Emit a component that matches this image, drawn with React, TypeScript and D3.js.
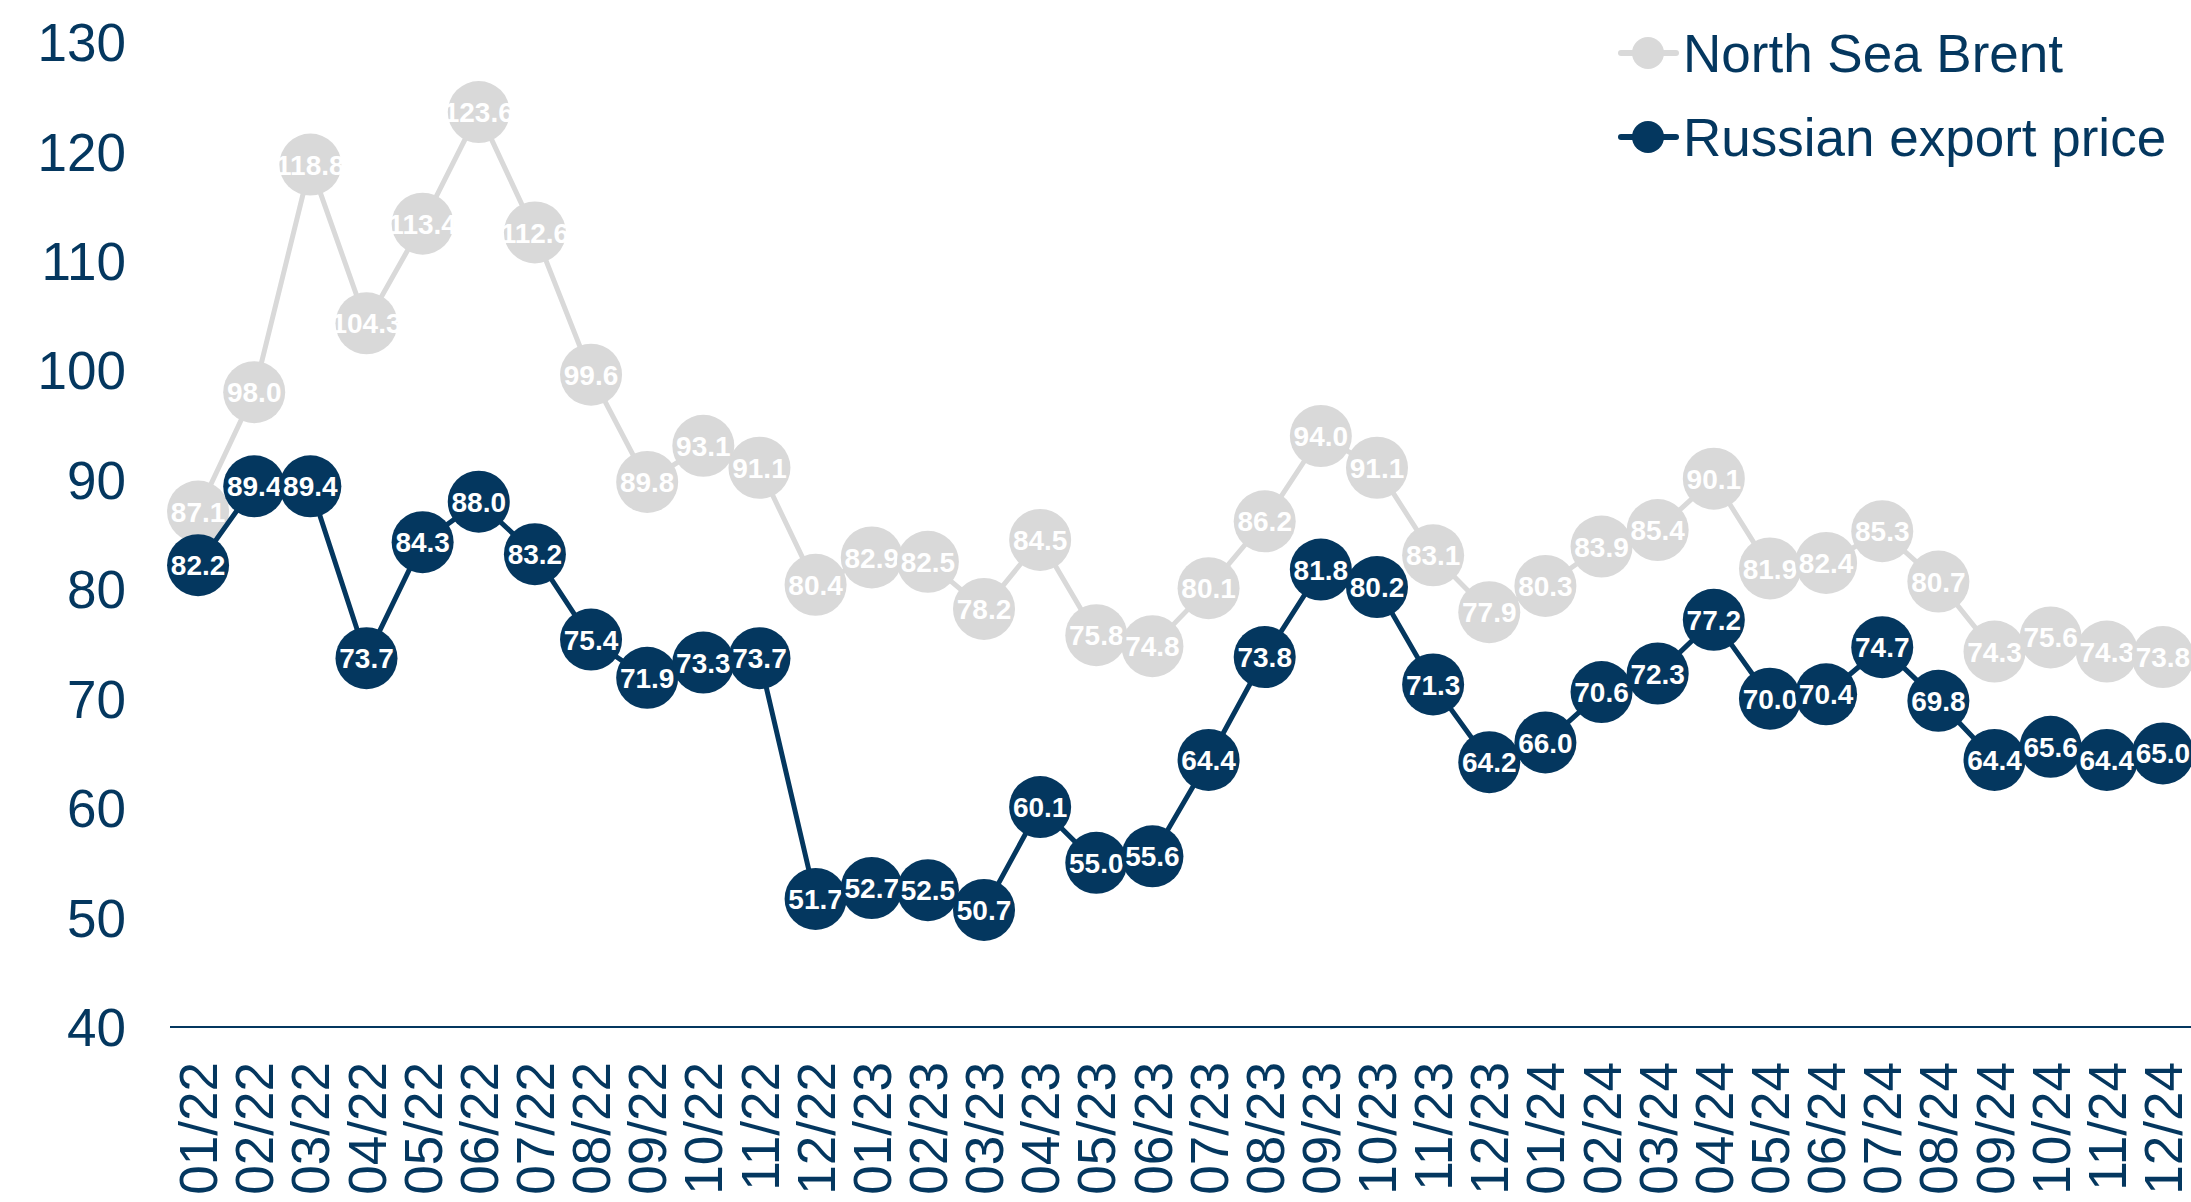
import React, { useEffect } from "react";
import * as d3 from "d3";

const months = [
  "01/22","02/22","03/22","04/22","05/22","06/22","07/22","08/22","09/22","10/22","11/22","12/22",
  "01/23","02/23","03/23","04/23","05/23","06/23","07/23","08/23","09/23","10/23","11/23","12/23",
  "01/24","02/24","03/24","04/24","05/24","06/24","07/24","08/24","09/24","10/24","11/24","12/24",
];
const brent = [
  87.1, 98.0, 118.8, 104.3, 113.4, 123.6, 112.6, 99.6, 89.8, 93.1, 91.1, 80.4,
  82.9, 82.5, 78.2, 84.5, 75.8, 74.8, 80.1, 86.2, 94.0, 91.1, 83.1, 77.9,
  80.3, 83.9, 85.4, 90.1, 81.9, 82.4, 85.3, 80.7, 74.3, 75.6, 74.3, 73.8,
];
const russian = [
  82.2, 89.4, 89.4, 73.7, 84.3, 88.0, 83.2, 75.4, 71.9, 73.3, 73.7, 51.7,
  52.7, 52.5, 50.7, 60.1, 55.0, 55.6, 64.4, 73.8, 81.8, 80.2, 71.3, 64.2,
  66.0, 70.6, 72.3, 77.2, 70.0, 70.4, 74.7, 69.8, 64.4, 65.6, 64.4, 65.0,
];
const yTicks = [40, 50, 60, 70, 80, 90, 100, 110, 120, 130];
const seriesNames = ["North Sea Brent", "Russian export price"];

const W = 2191;
const H = 1202;
const NAVY = "#04375f";
const GRAY = "#d9d9d9";
const FONT = "'Liberation Sans', Arial, sans-serif";

export default function App() {
  useEffect(() => {
    document.body.style.margin = "0";
  }, []);

  const x = d3.scaleBand<string>().domain(months).range([170, 2191]);
  const y = d3.scaleLinear().domain([40, 130]).range([1027, 42]);
  const cx = (m: string) => (x(m) as number) + x.bandwidth() / 2;
  const line = d3
    .line<number>()
    .x((_, i) => cx(months[i]))
    .y((d) => y(d));

  const series = [
    { name: seriesNames[0], values: brent, color: GRAY },
    { name: seriesNames[1], values: russian, color: NAVY },
  ];
  const r = 31;

  return (
    <svg width={W} height={H} style={{ display: "block" }} fontFamily={FONT}>
      {yTicks.map((t) => (
        <text
          key={t}
          x={126}
          y={y(t)}
          dy="0.36em"
          textAnchor="end"
          fontSize={53}
          fill={NAVY}
        >
          {t}
        </text>
      ))}
      <line x1={170} x2={W} y1={1027} y2={1027} stroke={NAVY} strokeWidth={2} />
      {months.map((m) => (
        <text
          key={m}
          transform={`translate(${cx(m)},${1062}) rotate(-90)`}
          dy="0.36em"
          textAnchor="end"
          fontSize={53}
          fill={NAVY}
        >
          {m}
        </text>
      ))}
      {series.map((s) => (
        <g key={s.name}>
          <path d={line(s.values) || ""} fill="none" stroke={s.color} strokeWidth={5} />
          {s.values.map((v, i) => (
            <g key={i}>
              <circle cx={cx(months[i])} cy={y(v)} r={r} fill={s.color} />
              <text
                x={cx(months[i])}
                y={y(v)}
                dy="0.36em"
                textAnchor="middle"
                fontSize={28}
                fontWeight="bold"
                fill="#ffffff"
              >
                {v.toFixed(1)}
              </text>
            </g>
          ))}
        </g>
      ))}
      {series.map((s, i) => {
        const ly = 53 + i * 84;
        return (
          <g key={s.name}>
            <line x1={1621} x2={1676} y1={ly} y2={ly} stroke={s.color} strokeWidth={6} strokeLinecap="round" />
            <circle cx={1648} cy={ly} r={16} fill={s.color} />
            <text x={1683} y={ly} dy="0.36em" fontSize={53} fill={NAVY}>
              {s.name}
            </text>
          </g>
        );
      })}
    </svg>
  );
}
